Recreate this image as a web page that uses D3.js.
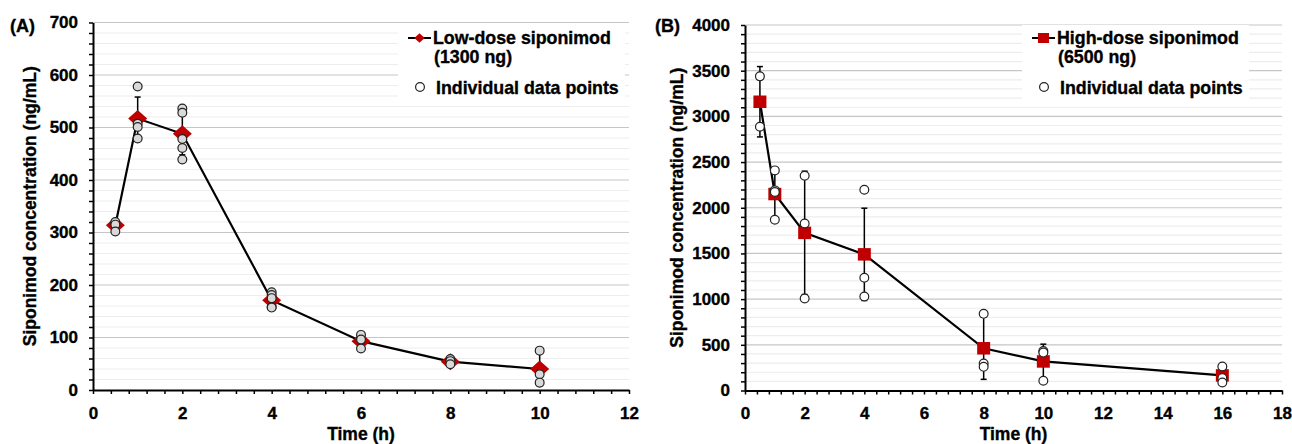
<html>
  <meta charset="utf-8" />
  <script src="https://d3js.org/d3.v7.min.js"></script>
  <style>
    body { margin: 0; background: #fff; }
    text { font-family: "Liberation Sans", Arial, sans-serif; font-weight: bold; fill: #000; stroke: #000; stroke-width: 0.35px; }
  </style>
  <body>
    <div id="chart"></div>
    <script>
      // panel A: low dose
      const timesA = [0.5, 1, 2, 4, 6, 8, 10];
      const meanA = [314, 517, 488, 171, 93, 54, 40];
      const sdA = [9, 41, 40, 12, 13, 5, 32];
      const pointsA = [
        [320, 315, 302],
        [578, 507, 501, 479],
        [536, 528, 478, 461, 439],
        [186, 181, 175, 158, 157],
        [105, 96, 79],
        [59, 55, 49],
        [75, 30, 14]
      ];

      // panel B: high dose
      const timesB = [0.5, 1, 2, 4, 8, 10, 16];
      const meanB = [3160, 2150, 1725, 1490, 462, 318, 165];
      const sdB = [385, 260, 675, 505, 340, 189, 90];
      const pointsB = [
        [3438, 2887],
        [2409, 2190, 2172, 1869],
        [2350, 1828, 1007],
        [2197, 1234, 1029],
        [839, 296, 259],
        [431, 415, 106],
        [263, 135, 88]
      ];

      const legendA = ["Low-dose siponimod", "(1300 ng)", "Individual data points"];
      const legendB = ["High-dose siponimod", "(6500 ng)", "Individual data points"];

      const svg = d3.select("#chart").append("svg")
        .attr("width", 1292)
        .attr("height", 444);

      const red = "#c00000";

      function drawPanel(p) {
        const x = d3.scaleLinear().domain([0, p.xMax]).range([p.left, p.right]);
        const y = d3.scaleLinear().domain([0, p.yMax]).range([p.bottom, p.top]);
        const g = svg.append("g");

        const minorY = d3.range(0, p.yMax / p.yMinor + 1).map(i => i * p.yMinor);
        const minorX = d3.range(0, Math.round(p.xMax / 0.4) + 1).map(i => i * 0.4);

        // gridlines
        g.append("g").selectAll("line")
          .data(minorY.filter(v => v > 0))
          .join("line")
          .attr("x1", p.left).attr("x2", p.right)
          .attr("y1", d => y(d)).attr("y2", d => y(d))
          .attr("stroke", d => d % p.yMajor === 0 ? "#c6c6c6" : "#ededed")
          .attr("stroke-width", 1.2);

        // axes
        const yAxis = g.append("g")
          .attr("transform", `translate(${p.left},0)`)
          .call(d3.axisLeft(y).tickValues(minorY).tickSize(4).tickSizeOuter(0).tickPadding(11)
            .tickFormat(d => d % p.yMajor === 0 ? d : ""));
        const xAxis = g.append("g")
          .attr("transform", `translate(0,${p.bottom})`)
          .call(d3.axisBottom(x).tickValues(minorX).tickSize(4).tickSizeOuter(0).tickPadding(12.6)
            .tickFormat(d => {
              const r = Math.round(d);
              return Math.abs(d - r) < 1e-6 && r % 2 === 0 ? r : "";
            }));
        [yAxis, xAxis].forEach(a => {
          a.attr("font-size", null).attr("font-family", null);
          a.select(".domain").attr("stroke", "#000").attr("stroke-width", 2);
          a.selectAll(".tick line").attr("stroke", "#000").attr("stroke-width", 1.5);
          a.selectAll("text").attr("fill", "#000")
            .style("font-size", "17px")
            .style("font-family", '"Liberation Sans", Arial, sans-serif').style("font-weight", "bold");
        });

        // error bars
        const eb = g.append("g").attr("stroke", "#000").attr("stroke-width", 1.5);
        p.times.forEach((t, i) => {
          const lo = y(p.mean[i] - p.sd[i]), hi = y(p.mean[i] + p.sd[i]), cx = x(t);
          eb.append("line").attr("x1", cx).attr("x2", cx).attr("y1", lo).attr("y2", hi);
          eb.append("line").attr("x1", cx - 3).attr("x2", cx + 3).attr("y1", lo).attr("y2", lo);
          eb.append("line").attr("x1", cx - 3).attr("x2", cx + 3).attr("y1", hi).attr("y2", hi);
        });

        // mean line
        g.append("path")
          .datum(p.times.map((t, i) => [t, p.mean[i]]))
          .attr("fill", "none")
          .attr("stroke", "#000")
          .attr("stroke-width", 2.2)
          .attr("d", d3.line().x(d => x(d[0])).y(d => y(d[1])));

        // mean markers
        g.append("g").selectAll("path")
          .data(p.times.map((t, i) => [t, p.mean[i]]))
          .join("path")
          .attr("fill", red)
          .attr("d", d => p.marker(x(d[0]), y(d[1]), 1));

        // individual points
        const pts = [];
        p.times.forEach((t, i) => p.points[i].forEach(v => pts.push([t, v])));
        g.append("g").selectAll("circle")
          .data(pts)
          .join("circle")
          .attr("cx", d => x(d[0]))
          .attr("cy", d => y(d[1]))
          .attr("r", 4.4)
          .attr("fill", p.pointFill)
          .attr("stroke", "#222")
          .attr("stroke-width", 1.2);

        // axis titles
        g.append("text")
          .attr("transform", `translate(${p.titleX},${(p.top + p.bottom) / 2}) rotate(-90)`)
          .attr("text-anchor", "middle")
          .attr("font-size", 17.5)
          .text("Siponimod concentration (ng/mL)");
        g.append("text")
          .attr("x", (p.left + p.right) / 2)
          .attr("y", 440)
          .attr("text-anchor", "middle")
          .attr("font-size", 17.5)
          .text("Time (h)");
        g.append("text")
          .attr("x", p.labelX)
          .attr("y", 32)
          .attr("font-size", 18)
          .text(p.label);

        // legend
        const lg = g.append("g");
        lg.append("rect")
          .attr("x", p.legX - 10).attr("y", 25)
          .attr("width", 227).attr("height", 76)
          .attr("fill", "#fff");
        lg.append("line")
          .attr("x1", p.legX).attr("x2", p.legX + 23)
          .attr("y1", 38).attr("y2", 38)
          .attr("stroke", "#000").attr("stroke-width", 2);
        lg.append("path").attr("fill", red).attr("d", p.marker(p.legX + 11.5, 38, 0.55));
        lg.append("circle")
          .attr("cx", p.legX + 12).attr("cy", 87).attr("r", 4.4)
          .attr("fill", "#fff").attr("stroke", "#222").attr("stroke-width", 1.2);
        const tx = p.legX + 25;
        lg.append("text").attr("x", tx).attr("y", 43.5).attr("font-size", 17.8).text(p.legend[0]);
        lg.append("text").attr("x", tx + 1).attr("y", 62.5).attr("font-size", 17.8).text(p.legend[1]);
        lg.append("text").attr("x", tx + 3).attr("y", 93.5).attr("font-size", 17.8).text(p.legend[2]);
      }

      const diamond = (cx, cy, s) =>
        `M${cx},${cy - 8.5 * s}L${cx + 9.5 * s},${cy}L${cx},${cy + 8.5 * s}L${cx - 9.5 * s},${cy}Z`;
      const square = (cx, cy, s) => {
        const w = 13 * (s < 1 ? 0.85 : 1), h = 12.5 * (s < 1 ? 0.8 : 1);
        return `M${cx - w / 2},${cy - h / 2}h${w}v${h}h${-w}Z`;
      };

      drawPanel({
        times: timesA, mean: meanA, sd: sdA, points: pointsA, legend: legendA,
        xMax: 12, yMax: 700, yMajor: 100, yMinor: 20,
        left: 93, right: 629, top: 22.5, bottom: 390,
        marker: diamond, pointFill: "#d9d9d9",
        titleX: 36, labelX: 10, label: "(A)", legX: 408
      });

      drawPanel({
        times: timesB, mean: meanB, sd: sdB, points: pointsB, legend: legendB,
        xMax: 18, yMax: 4000, yMajor: 500, yMinor: 100,
        left: 745, right: 1282, top: 25, bottom: 390.5,
        marker: square, pointFill: "#fff",
        titleX: 683, labelX: 655, label: "(B)", legX: 1032
      });
    </script>
  </body>
</html>
